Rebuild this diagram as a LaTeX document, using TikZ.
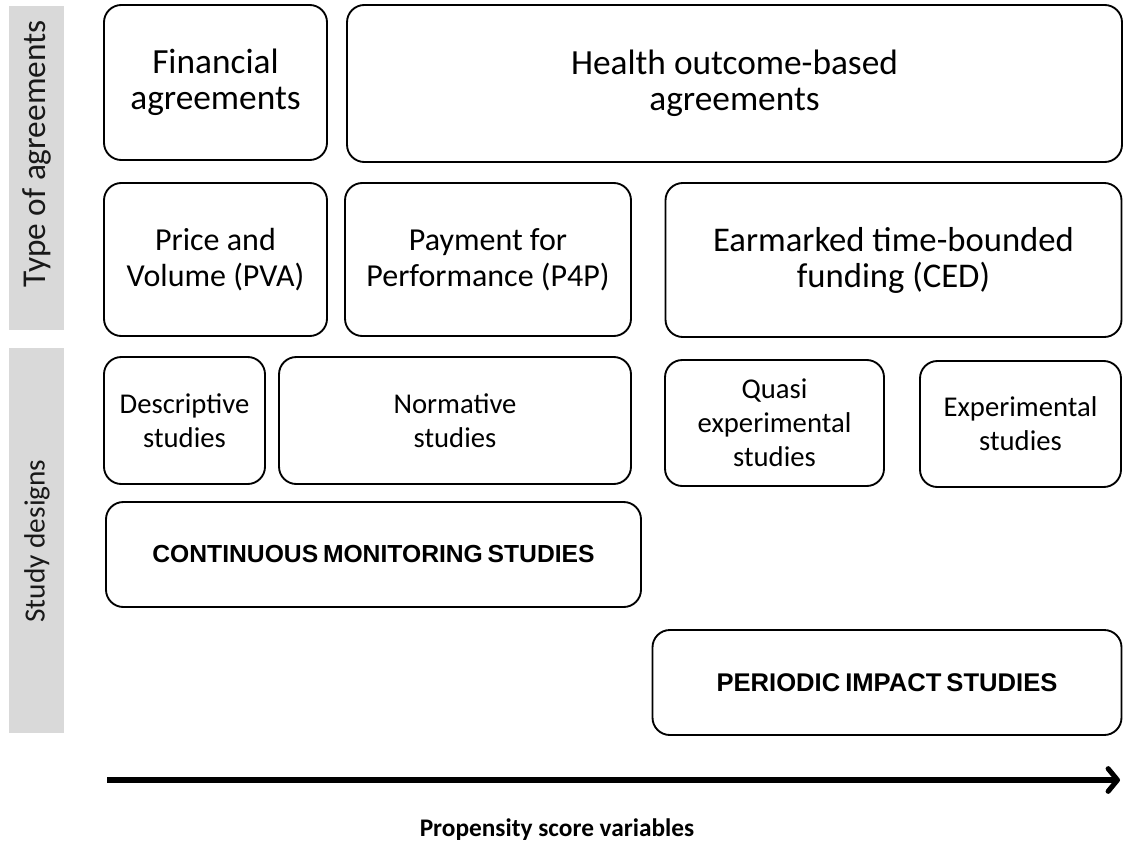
\documentclass[tikz,border=0pt]{standalone}
\usepackage{fontspec}
\setmainfont{Carlito}[Extension=.ttf, UprightFont=*-Regular, BoldFont=*-Bold, ItalicFont=*-Italic, BoldItalicFont=*-BoldItalic]
\newfontfamily\capsfont{Liberation Sans}[WordSpace=0.7]
\usetikzlibrary{arrows.meta}
\tikzset{
  rbox/.style={draw=black, line width=1.4pt, rounded corners=13pt, align=center, inner sep=0pt, text=black},
  toptxt/.style={font=\fontsize{26.5}{27}\selectfont},
  bigtxt/.style={font=\fontsize{24}{27}\selectfont},
  cedtxt/.style={font=\fontsize{26}{27}\selectfont},
  midtxt/.style={font=\fontsize{21.5}{25.5}\selectfont},
  capstxt/.style={font=\capsfont\bfseries\fontsize{18.5}{21}\selectfont},
  sidetxt/.style={rotate=90, text=black!90},
}
\begin{document}
\begin{tikzpicture}[x=0.75pt, y=-0.75pt]
\useasboundingbox (0,0) rectangle (1124,849);
% side bars
\fill[black!15] (9,6) rectangle (64,330);
\fill[black!15] (9,348) rectangle (64,733);
\node[sidetxt, font=\fontsize{25}{26}\selectfont] (sa) at (37,154) {Type of agreements};
\node[sidetxt, font=\fontsize{22}{24}\selectfont] (sb) at (37,541) {Study designs};
% row 1
\node[rbox, toptxt, minimum width=167.25pt, minimum height=116.25pt] (fin) at (215.5,82.5) {Financial\\agreements};
\node[rbox, toptxt, minimum width=581.25pt, minimum height=117.75pt] (hob) at (734.5,83.5) {Health outcome-based\\agreements};
% row 2
\node[rbox, bigtxt, minimum width=167.25pt, minimum height=114.75pt] (pva) at (215.5,259.5) {Price and\\Volume (PVA)};
\node[rbox, bigtxt, minimum width=214.5pt, minimum height=114.75pt] (p4p) at (488,259.5) {Payment for\\Performance (P4P)};
\node[rbox, cedtxt, minimum width=342pt, minimum height=115.5pt] (ced) at (893.5,260) {Earmarked time-bounded\\funding (CED)};
% row 3
\node[rbox, midtxt, minimum width=120.75pt, minimum height=95.25pt] (desc) at (184.5,420.5) {Descriptive\\studies};
\node[rbox, midtxt, minimum width=264pt, minimum height=95.25pt] (norm) at (455,420.5) {Normative\\studies};
\node[rbox, midtxt, minimum width=164.25pt, minimum height=94.5pt] (quasi) at (774.5,423) {Quasi\\experimental\\studies};
\node[rbox, midtxt, minimum width=150.75pt, minimum height=94.5pt] (expt) at (1020.5,424) {Experimental\\studies};
% row 4/5
\node[rbox, capstxt, minimum width=401.25pt, minimum height=78.75pt] (cont) at (373.5,554.5) {CONTINUOUS MONITORING STUDIES};
\node[rbox, capstxt, font=\capsfont\bfseries\fontsize{19.2}{21}\selectfont, minimum width=351.75pt, minimum height=78.75pt] (peri) at (887,682.5) {PERIODIC IMPACT STUDIES};
% arrow
\coordinate (as) at (107,780);
\coordinate (ae) at (1120,780);
\draw[line width=3.8pt, -{Straight Barb[round, length=7pt, width=17pt]}] (as) -- (ae);
\node[font=\bfseries\fontsize{19}{21}\selectfont] (lab) at (557,830) {Propensity score variables};
\end{tikzpicture}
\end{document}
